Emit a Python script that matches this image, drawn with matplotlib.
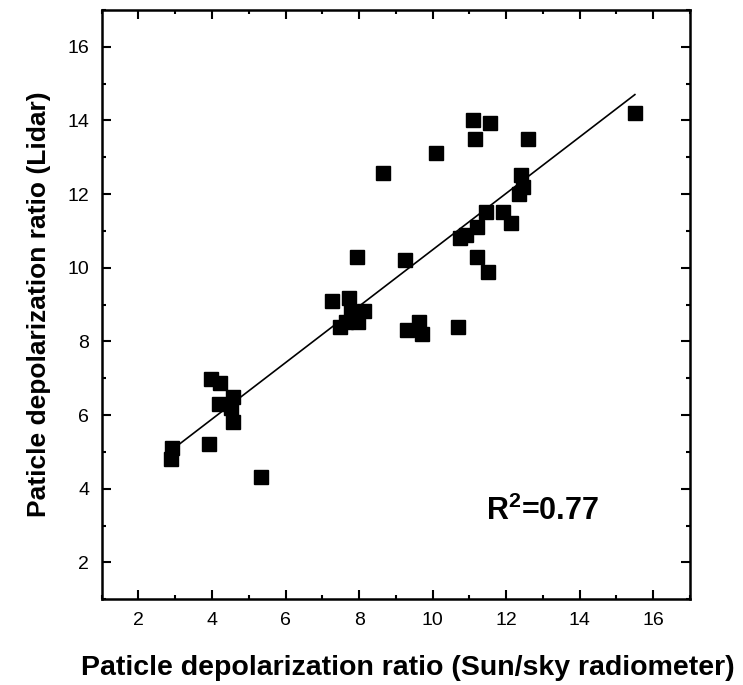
import numpy as np
import matplotlib
matplotlib.use("Agg")
import matplotlib.pyplot as plt
from matplotlib.ticker import MultipleLocator

plt.rcParams['font.family'] = ['Liberation Sans', 'DejaVu Sans']
plt.rcParams['mathtext.fontset'] = 'custom'
plt.rcParams['mathtext.rm'] = 'Liberation Sans'
plt.rcParams['mathtext.bf'] = 'Liberation Sans:bold'

# sun/sky radiometer vs lidar particle depolarization ratio (%)
radiometer = [2.92, 2.88, 3.92, 3.98, 4.22, 4.19, 4.58, 4.52, 4.58, 5.34,
              7.26, 7.72, 7.79, 8.12, 7.49, 7.64, 7.96, 7.94, 9.26, 9.31,
              9.62, 9.72, 10.69, 10.08, 11.10, 11.57, 11.15, 12.60, 12.39, 12.45,
              12.36, 11.45, 11.90, 12.14, 11.22, 10.92, 10.75, 11.22, 11.50, 15.50,
              8.65]
lidar = [5.10, 4.81, 5.22, 6.98, 6.88, 6.29, 6.48, 6.19, 5.82, 4.31,
         9.10, 9.19, 8.81, 8.82, 8.40, 8.54, 8.52, 10.30, 10.21, 8.31,
         8.54, 8.21, 8.40, 13.11, 14.01, 13.92, 13.50, 13.50, 12.51, 12.20,
         12.01, 11.52, 11.52, 11.21, 11.11, 10.90, 10.82, 10.30, 9.89, 14.21,
         12.58]
r2_label = r'R$^{\mathbf{2}}$=0.77'

x = np.array(radiometer)
y = np.array(lidar)
slope, intercept = np.polyfit(x, y, 1)
xfit = np.array([x.min(), x.max()])

fig = plt.figure(figsize=(7.43, 6.85), dpi=100)
ax = fig.add_axes([0.1369, 0.1251, 0.7918, 0.8603])

ax.plot(x, y, linestyle='none', marker='s', markersize=9.5, color='black')
ax.plot(xfit, slope * xfit + intercept, color='black', linewidth=1.2)

ax.set_xlim(1, 17)
ax.set_ylim(1, 17)
ax.xaxis.set_minor_locator(MultipleLocator(1))
ax.yaxis.set_minor_locator(MultipleLocator(1))
ax.set_xticks(range(2, 17, 2))
ax.set_yticks(range(2, 17, 2))

ax.tick_params(which='both', direction='in', top=True, right=True, width=1.5)
ax.tick_params(which='major', length=6.7, labelsize=14, pad=9)
ax.tick_params(which='minor', length=3.2)
for s in ax.spines.values():
    s.set_linewidth(1.8)

ax.set_xlabel('Paticle depolarization ratio (Sun/sky radiometer)',
              fontsize=20.5, fontweight='bold')
ax.xaxis.set_label_coords(0.52, -0.095)
ax.set_ylabel('Paticle depolarization ratio (Lidar)',
              fontsize=19, fontweight='bold', labelpad=12)

ax.text(11.44, 3.15, r2_label, fontsize=22, fontweight='bold', va='baseline')

fig.savefig('out.png', dpi=100)
plt.close(fig)
